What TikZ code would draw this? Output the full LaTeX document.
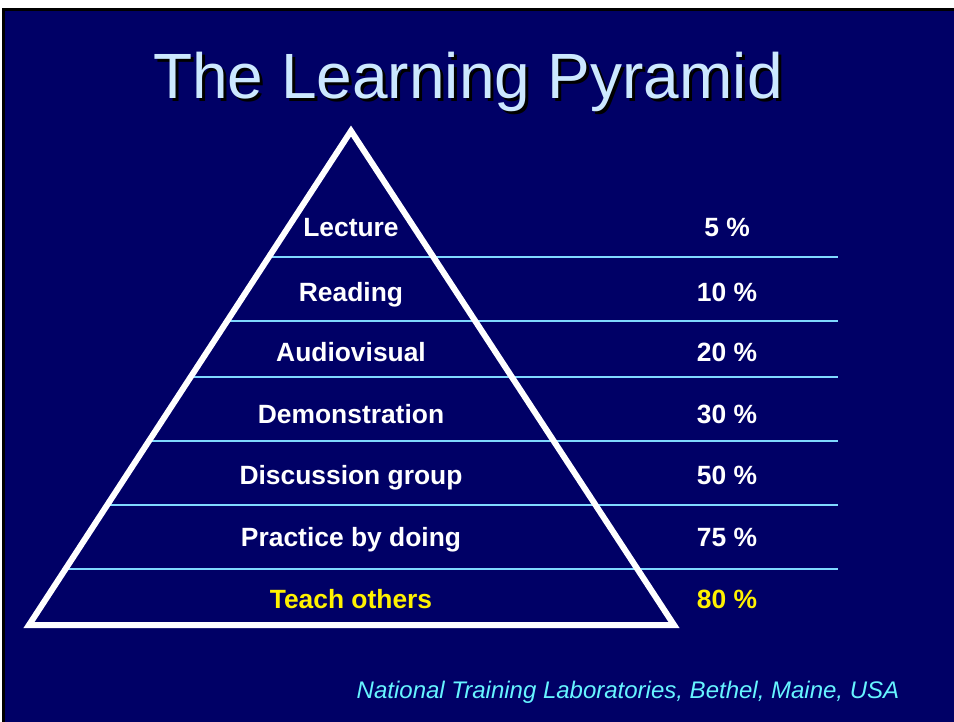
\documentclass[tikz,border=0pt]{standalone}
\usepackage{fontspec}
\setmainfont{Liberation Sans}
\definecolor{slide}{HTML}{000066}
\definecolor{titleblue}{HTML}{CCE8FF}
\definecolor{rule}{HTML}{7FD8FF}
\definecolor{credit}{HTML}{66F4FF}

\begin{document}
\begin{tikzpicture}
  [x=1pt,y=-1pt,every node/.style={inner sep=0pt,anchor=base},
   lbl/.style={text=white,font=\fontsize{26.4}{31}\selectfont\bfseries},
   hot/.style={lbl,text=yellow}]
  \useasboundingbox (0,0) rectangle (954,722);
  \fill[white] (0,0) rectangle (954,722);
  \fill[black] (2,8) rectangle (954,722);
  \fill[slide] (5,11) rectangle (954,722);

  % title with its shadow
  \node[text=black,font=\fontsize{64}{70}\selectfont] (shadow) at (471,102) {The Learning Pyramid};
  \node[text=titleblue,font=\fontsize{64}{70}\selectfont] (title) at (468,99) {The Learning Pyramid};

  \coordinate (top) at (351,131);
  \coordinate (bl) at (29,625);
  \coordinate (br) at (674,625);

  \foreach \y in {257,321,377,441,505,569}
    \draw[rule,line width=1.5pt] ({351-0.6518*(\y-131)},\y) -- (838,\y);

  \draw[white,line width=6pt,miter limit=20] (top) -- (bl) -- (br) -- cycle;

  \foreach \name/\y/\txt/\pct in {lec/237/Lecture/5,read/302/Reading/10,
      av/362/Audiovisual/20,demo/423/Demonstration/30,
      disc/484/Discussion group/50,prac/546/Practice by doing/75}
  {
    \node[lbl] (\name) at (351,\y) {\txt};
    \node[lbl] (\name p) at (727,\y) {\pct\ \%};
  }
  \node[hot] (teach) at (351,608) {Teach others};
  \node[hot] (teachp) at (727,608) {80 \%};

  \node[text=credit,font=\fontsize{24}{28}\selectfont\itshape] (ntl) at (628,698)
    {National Training Laboratories, Bethel, Maine, USA};
\end{tikzpicture}
\end{document}
